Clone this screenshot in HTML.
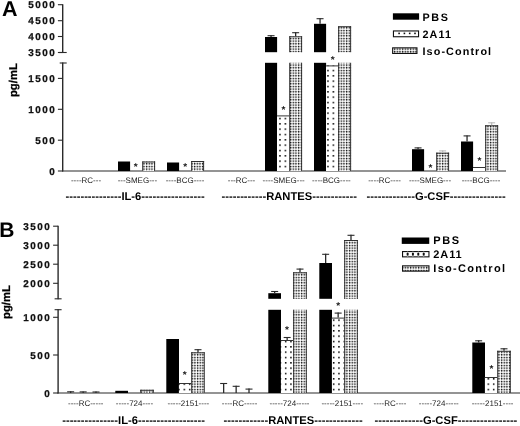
<!DOCTYPE html>
<html><head><meta charset="utf-8"><title>Figure</title>
<style>html,body{margin:0;padding:0;background:#fff}svg{display:block}text{font-family:'Liberation Sans', Arial, sans-serif;text-rendering:geometricPrecision}</style>
</head><body>
<svg width="520" height="426" viewBox="0 0 520 426">
<defs>
<pattern id="pA" x="1.920" y="0.420" width="5.3333" height="5.3333" patternUnits="userSpaceOnUse"><rect width="5.3333" height="5.3333" fill="#fff"/><rect x="0" y="0" width="1.5" height="1.5" fill="#000"/></pattern>
<pattern id="pI" x="2.020" y="0.520" width="2.6667" height="2.6667" patternUnits="userSpaceOnUse"><rect width="2.6667" height="2.6667" fill="#fff"/><rect x="0" y="0.400" width="2.6667" height="0.5" fill="#c0c0c0"/><rect x="0.400" y="0" width="0.5" height="2.6667" fill="#c0c0c0"/><rect x="0" y="0" width="1.3" height="1.3" fill="#000"/></pattern>
<pattern id="pAB" x="2.220" y="-0.580" width="5.3333" height="5.3333" patternUnits="userSpaceOnUse"><rect width="5.3333" height="5.3333" fill="#fff"/><rect x="0" y="0" width="1.5" height="1.5" fill="#000"/></pattern>
<pattern id="pIB" x="2.320" y="-0.480" width="2.6667" height="2.6667" patternUnits="userSpaceOnUse"><rect width="2.6667" height="2.6667" fill="#fff"/><rect x="0" y="0.400" width="2.6667" height="0.5" fill="#c0c0c0"/><rect x="0.400" y="0" width="0.5" height="2.6667" fill="#c0c0c0"/><rect x="0" y="0" width="1.3" height="1.3" fill="#000"/></pattern>
</defs>
<rect width="520" height="426" fill="#fff"/>
<text x="1.9" y="15.8" font-size="21.5" font-weight="bold" fill="#000">A</text>
<line x1="62.7" y1="4.2" x2="62.7" y2="53" stroke="#2a2a2a" stroke-width="1.4"/>
<line x1="62.7" y1="62.5" x2="62.7" y2="171.5" stroke="#2a2a2a" stroke-width="1.4"/>
<line x1="58.7" y1="52.5" x2="66.7" y2="52.5" stroke="#2a2a2a" stroke-width="1.1"/>
<line x1="59.7" y1="63" x2="66.7" y2="63" stroke="#2a2a2a" stroke-width="1.1"/>
<line x1="57.900000000000006" y1="4.7" x2="62.7" y2="4.7" stroke="#2a2a2a" stroke-width="1.1"/>
<text x="56.2" y="8.3" font-size="9.9" font-weight="bold" letter-spacing="1.5" text-anchor="end" fill="#111" stroke="#111" stroke-width="0.25">5000</text>
<line x1="57.900000000000006" y1="20.7" x2="62.7" y2="20.7" stroke="#2a2a2a" stroke-width="1.1"/>
<text x="56.2" y="24.3" font-size="9.9" font-weight="bold" letter-spacing="1.5" text-anchor="end" fill="#111" stroke="#111" stroke-width="0.25">4500</text>
<line x1="57.900000000000006" y1="36.5" x2="62.7" y2="36.5" stroke="#2a2a2a" stroke-width="1.1"/>
<text x="56.2" y="40.1" font-size="9.9" font-weight="bold" letter-spacing="1.5" text-anchor="end" fill="#111" stroke="#111" stroke-width="0.25">4000</text>
<line x1="57.900000000000006" y1="52.5" x2="62.7" y2="52.5" stroke="#2a2a2a" stroke-width="1.1"/>
<text x="56.2" y="56.1" font-size="9.9" font-weight="bold" letter-spacing="1.5" text-anchor="end" fill="#111" stroke="#111" stroke-width="0.25">3500</text>
<line x1="57.900000000000006" y1="78.4" x2="62.7" y2="78.4" stroke="#2a2a2a" stroke-width="1.1"/>
<text x="56.2" y="82.0" font-size="9.9" font-weight="bold" letter-spacing="1.5" text-anchor="end" fill="#111" stroke="#111" stroke-width="0.25">1500</text>
<line x1="57.900000000000006" y1="109.3" x2="62.7" y2="109.3" stroke="#2a2a2a" stroke-width="1.1"/>
<text x="56.2" y="112.89999999999999" font-size="9.9" font-weight="bold" letter-spacing="1.5" text-anchor="end" fill="#111" stroke="#111" stroke-width="0.25">1000</text>
<line x1="57.900000000000006" y1="140.2" x2="62.7" y2="140.2" stroke="#2a2a2a" stroke-width="1.1"/>
<text x="56.2" y="143.79999999999998" font-size="9.9" font-weight="bold" letter-spacing="1.5" text-anchor="end" fill="#111" stroke="#111" stroke-width="0.25">500</text>
<line x1="57.900000000000006" y1="171" x2="62.7" y2="171" stroke="#2a2a2a" stroke-width="1.1"/>
<text x="56.2" y="174.6" font-size="9.9" font-weight="bold" letter-spacing="1.5" text-anchor="end" fill="#111" stroke="#111" stroke-width="0.25">0</text>
<line x1="62.1" y1="171" x2="506" y2="171" stroke="#2a2a2a" stroke-width="1.15"/>
<text transform="translate(17.4,80.1) rotate(-90)" font-size="11.3" font-weight="bold" text-anchor="middle" fill="#000" stroke="#000" stroke-width="0.25">pg/mL</text>
<rect x="118.00" y="161.50" width="12.10" height="9.50" fill="#000"/>
<rect x="142.20" y="161.50" width="12.90" height="9.50" fill="url(#pI)"/>
<line x1="142.70" y1="161.50" x2="142.70" y2="171.00" stroke="#2a2a2a" stroke-width="0.95"/>
<line x1="154.60" y1="161.50" x2="154.60" y2="171.00" stroke="#2a2a2a" stroke-width="0.95"/>
<line x1="142.20" y1="162.00" x2="155.10" y2="162.00" stroke="#2a2a2a" stroke-width="0.95"/>
<rect x="167.00" y="162.50" width="12.10" height="8.50" fill="#000"/>
<rect x="191.20" y="161.00" width="12.90" height="10.00" fill="url(#pI)"/>
<line x1="191.70" y1="161.00" x2="191.70" y2="171.00" stroke="#2a2a2a" stroke-width="0.95"/>
<line x1="203.60" y1="161.00" x2="203.60" y2="171.00" stroke="#2a2a2a" stroke-width="0.95"/>
<line x1="191.20" y1="161.50" x2="204.10" y2="161.50" stroke="#2a2a2a" stroke-width="0.95"/>
<rect x="265.00" y="37.00" width="12.10" height="15.20" fill="#000"/>
<rect x="265.00" y="62.80" width="12.10" height="108.20" fill="#000"/>
<line x1="271.05" y1="35.20" x2="271.05" y2="37.00" stroke="#2a2a2a" stroke-width="1.3"/>
<line x1="267.55" y1="35.70" x2="274.55" y2="35.70" stroke="#2a2a2a" stroke-width="1.1"/>
<rect x="277.00" y="115.40" width="12.40" height="55.60" fill="url(#pA)"/>
<line x1="277.00" y1="115.90" x2="289.40" y2="115.90" stroke="#2a2a2a" stroke-width="0.95"/>
<rect x="289.20" y="36.30" width="12.90" height="15.90" fill="url(#pI)"/>
<line x1="289.70" y1="36.30" x2="289.70" y2="52.20" stroke="#2a2a2a" stroke-width="0.95"/>
<line x1="301.60" y1="36.30" x2="301.60" y2="52.20" stroke="#2a2a2a" stroke-width="0.95"/>
<line x1="289.20" y1="36.80" x2="302.10" y2="36.80" stroke="#2a2a2a" stroke-width="0.95"/>
<rect x="289.20" y="62.80" width="12.90" height="108.20" fill="url(#pI)"/>
<line x1="289.70" y1="62.80" x2="289.70" y2="171.00" stroke="#2a2a2a" stroke-width="0.95"/>
<line x1="301.60" y1="62.80" x2="301.60" y2="171.00" stroke="#2a2a2a" stroke-width="0.95"/>
<line x1="295.65" y1="32.20" x2="295.65" y2="36.30" stroke="#2a2a2a" stroke-width="1.3"/>
<line x1="292.15" y1="32.70" x2="299.15" y2="32.70" stroke="#2a2a2a" stroke-width="1.1"/>
<rect x="314.00" y="23.80" width="12.10" height="28.40" fill="#000"/>
<rect x="314.00" y="62.80" width="12.10" height="108.20" fill="#000"/>
<line x1="320.05" y1="18.20" x2="320.05" y2="23.80" stroke="#2a2a2a" stroke-width="1.3"/>
<line x1="316.55" y1="18.70" x2="323.55" y2="18.70" stroke="#2a2a2a" stroke-width="1.1"/>
<rect x="326.00" y="65.40" width="12.40" height="105.60" fill="url(#pA)"/>
<line x1="326.00" y1="65.90" x2="338.40" y2="65.90" stroke="#2a2a2a" stroke-width="0.95"/>
<rect x="338.20" y="26.20" width="12.90" height="26.00" fill="url(#pI)"/>
<line x1="338.70" y1="26.20" x2="338.70" y2="52.20" stroke="#2a2a2a" stroke-width="0.95"/>
<line x1="350.60" y1="26.20" x2="350.60" y2="52.20" stroke="#2a2a2a" stroke-width="0.95"/>
<line x1="338.20" y1="26.70" x2="351.10" y2="26.70" stroke="#2a2a2a" stroke-width="0.95"/>
<rect x="338.20" y="62.80" width="12.90" height="108.20" fill="url(#pI)"/>
<line x1="338.70" y1="62.80" x2="338.70" y2="171.00" stroke="#2a2a2a" stroke-width="0.95"/>
<line x1="350.60" y1="62.80" x2="350.60" y2="171.00" stroke="#2a2a2a" stroke-width="0.95"/>
<rect x="412.00" y="149.20" width="12.10" height="21.80" fill="#000"/>
<line x1="418.05" y1="147.40" x2="418.05" y2="149.20" stroke="#2a2a2a" stroke-width="1.3"/>
<line x1="414.55" y1="147.90" x2="421.55" y2="147.90" stroke="#2a2a2a" stroke-width="1.1"/>
<rect x="436.20" y="152.70" width="12.90" height="18.30" fill="url(#pI)"/>
<line x1="436.70" y1="152.70" x2="436.70" y2="171.00" stroke="#2a2a2a" stroke-width="0.95"/>
<line x1="448.60" y1="152.70" x2="448.60" y2="171.00" stroke="#2a2a2a" stroke-width="0.95"/>
<line x1="436.20" y1="153.20" x2="449.10" y2="153.20" stroke="#2a2a2a" stroke-width="0.95"/>
<line x1="442.65" y1="150.40" x2="442.65" y2="152.70" stroke="#bbb" stroke-width="1.3"/>
<line x1="439.15" y1="150.90" x2="446.15" y2="150.90" stroke="#bbb" stroke-width="1.1"/>
<rect x="461.00" y="141.50" width="12.10" height="29.50" fill="#000"/>
<line x1="467.05" y1="135.40" x2="467.05" y2="141.50" stroke="#2a2a2a" stroke-width="1.3"/>
<line x1="463.55" y1="135.90" x2="470.55" y2="135.90" stroke="#2a2a2a" stroke-width="1.1"/>
<rect x="473.00" y="167.00" width="12.40" height="4.00" fill="url(#pA)"/>
<line x1="473.00" y1="167.50" x2="485.40" y2="167.50" stroke="#2a2a2a" stroke-width="0.95"/>
<rect x="485.20" y="125.20" width="12.90" height="45.80" fill="url(#pI)"/>
<line x1="485.70" y1="125.20" x2="485.70" y2="171.00" stroke="#2a2a2a" stroke-width="0.95"/>
<line x1="497.60" y1="125.20" x2="497.60" y2="171.00" stroke="#2a2a2a" stroke-width="0.95"/>
<line x1="485.20" y1="125.70" x2="498.10" y2="125.70" stroke="#2a2a2a" stroke-width="0.95"/>
<line x1="491.65" y1="122.30" x2="491.65" y2="125.20" stroke="#bbb" stroke-width="1.3"/>
<line x1="488.15" y1="122.80" x2="495.15" y2="122.80" stroke="#bbb" stroke-width="1.1"/>
<text x="135.60" y="170.30" font-size="10" font-weight="bold" text-anchor="middle" fill="#111">*</text>
<text x="185.30" y="170.30" font-size="10" font-weight="bold" text-anchor="middle" fill="#111">*</text>
<text x="283.50" y="113.30" font-size="10" font-weight="bold" text-anchor="middle" fill="#111">*</text>
<text x="332.70" y="62.70" font-size="10" font-weight="bold" text-anchor="middle" fill="#111">*</text>
<text x="430.40" y="171.10" font-size="10" font-weight="bold" text-anchor="middle" fill="#111">*</text>
<text x="479.40" y="164.20" font-size="10" font-weight="bold" text-anchor="middle" fill="#111">*</text>
<text x="86" y="182.7" font-size="8" text-anchor="middle" fill="#222">----RC---</text>
<text x="137.4" y="182.7" font-size="8" text-anchor="middle" fill="#222">---SMEG---</text>
<text x="185" y="182.7" font-size="8" text-anchor="middle" fill="#222">----BCG----</text>
<text x="241.5" y="182.7" font-size="8" text-anchor="middle" fill="#222">---RC---</text>
<text x="283.7" y="182.7" font-size="8" text-anchor="middle" fill="#222">----SMEG---</text>
<text x="331.4" y="182.7" font-size="8" text-anchor="middle" fill="#222">----BCG----</text>
<text x="384.6" y="182.7" font-size="8" text-anchor="middle" fill="#222">----RC----</text>
<text x="430" y="182.7" font-size="8" text-anchor="middle" fill="#222">----SMEG---</text>
<text x="481" y="182.7" font-size="8" text-anchor="middle" fill="#222">----BCG----</text>
<text x="65.5" y="200.3" font-size="11.2" font-weight="bold" fill="#000">---------------IL-6-----------------</text>
<text x="221.5" y="200.3" font-size="11.2" font-weight="bold" fill="#000">------------RANTES------------</text>
<text x="366.5" y="200.3" font-size="11.2" font-weight="bold" fill="#000">-------------G-CSF---------------</text>
<rect x="392.9" y="13.3" width="26.2" height="6.4" fill="#000"/>
<rect x="393.45" y="30.95" width="25.099999999999998" height="5.800000000000001" fill="#fff" stroke="#111" stroke-width="1.1"/>
<rect x="398.30" y="32.60" width="1.6" height="1.6" fill="#111"/>
<rect x="403.60" y="32.60" width="1.6" height="1.6" fill="#111"/>
<rect x="408.90" y="32.60" width="1.6" height="1.6" fill="#111"/>
<rect x="414.20" y="32.60" width="1.6" height="1.6" fill="#111"/>
<rect x="392.65000000000003" y="47.849999999999994" width="24.299999999999997" height="5.6" fill="url(#pI)" stroke="#111" stroke-width="1.1"/>
<text x="422.5" y="20.5" font-size="10.8" font-weight="bold" letter-spacing="1.6" fill="#000">PBS</text>
<text x="422.5" y="37.8" font-size="10.8" font-weight="bold" letter-spacing="1.1" fill="#000">2A11</text>
<text x="422.5" y="54.9" font-size="10.8" font-weight="bold" letter-spacing="1.1" fill="#000">Iso-Control</text>
<text x="-0.7" y="236.8" font-size="21" font-weight="bold" fill="#000">B</text>
<line x1="58.1" y1="225.7" x2="58.1" y2="299.3" stroke="#2a2a2a" stroke-width="1.4"/>
<line x1="58.1" y1="309.2" x2="58.1" y2="393.5" stroke="#2a2a2a" stroke-width="1.4"/>
<line x1="54.6" y1="298.8" x2="61.6" y2="298.8" stroke="#2a2a2a" stroke-width="1.1"/>
<line x1="54.6" y1="309.7" x2="61.6" y2="309.7" stroke="#2a2a2a" stroke-width="1.1"/>
<line x1="53.1" y1="226.2" x2="58.1" y2="226.2" stroke="#2a2a2a" stroke-width="1.1"/>
<text x="51.2" y="229.79999999999998" font-size="9.9" font-weight="bold" letter-spacing="1.5" text-anchor="end" fill="#111" stroke="#111" stroke-width="0.25">3500</text>
<line x1="53.1" y1="245.2" x2="58.1" y2="245.2" stroke="#2a2a2a" stroke-width="1.1"/>
<text x="51.2" y="248.79999999999998" font-size="9.9" font-weight="bold" letter-spacing="1.5" text-anchor="end" fill="#111" stroke="#111" stroke-width="0.25">3000</text>
<line x1="53.1" y1="264.2" x2="58.1" y2="264.2" stroke="#2a2a2a" stroke-width="1.1"/>
<text x="51.2" y="267.8" font-size="9.9" font-weight="bold" letter-spacing="1.5" text-anchor="end" fill="#111" stroke="#111" stroke-width="0.25">2500</text>
<line x1="53.1" y1="283.3" x2="58.1" y2="283.3" stroke="#2a2a2a" stroke-width="1.1"/>
<text x="51.2" y="286.90000000000003" font-size="9.9" font-weight="bold" letter-spacing="1.5" text-anchor="end" fill="#111" stroke="#111" stroke-width="0.25">2000</text>
<line x1="53.1" y1="317.3" x2="58.1" y2="317.3" stroke="#2a2a2a" stroke-width="1.1"/>
<text x="51.2" y="320.90000000000003" font-size="9.9" font-weight="bold" letter-spacing="1.5" text-anchor="end" fill="#111" stroke="#111" stroke-width="0.25">1000</text>
<line x1="53.1" y1="355" x2="58.1" y2="355" stroke="#2a2a2a" stroke-width="1.1"/>
<text x="51.2" y="358.6" font-size="9.9" font-weight="bold" letter-spacing="1.5" text-anchor="end" fill="#111" stroke="#111" stroke-width="0.25">500</text>
<line x1="53.1" y1="393" x2="58.1" y2="393" stroke="#2a2a2a" stroke-width="1.1"/>
<text x="51.2" y="396.6" font-size="9.9" font-weight="bold" letter-spacing="1.5" text-anchor="end" fill="#111" stroke="#111" stroke-width="0.25">0</text>
<line x1="57.5" y1="393" x2="520" y2="393" stroke="#2a2a2a" stroke-width="1.15"/>
<text transform="translate(9.8,302) rotate(-90)" font-size="11.3" font-weight="bold" text-anchor="middle" fill="#000" stroke="#000" stroke-width="0.25">pg/mL</text>
<line x1="70.65" y1="391.30" x2="70.65" y2="393.00" stroke="#2a2a2a" stroke-width="1.3"/>
<line x1="67.15" y1="391.80" x2="74.15" y2="391.80" stroke="#2a2a2a" stroke-width="1.1"/>
<line x1="83.15" y1="391.40" x2="83.15" y2="393.00" stroke="#2a2a2a" stroke-width="1.3"/>
<line x1="79.65" y1="391.90" x2="86.65" y2="391.90" stroke="#2a2a2a" stroke-width="1.1"/>
<line x1="96.00" y1="391.50" x2="96.00" y2="393.00" stroke="#2a2a2a" stroke-width="1.3"/>
<line x1="92.50" y1="392.00" x2="99.50" y2="392.00" stroke="#2a2a2a" stroke-width="1.1"/>
<rect x="115.30" y="390.80" width="12.70" height="2.20" fill="#000"/>
<rect x="140.20" y="389.80" width="13.60" height="3.20" fill="url(#pIB)"/>
<line x1="140.70" y1="389.80" x2="140.70" y2="393.00" stroke="#2a2a2a" stroke-width="0.95"/>
<line x1="153.30" y1="389.80" x2="153.30" y2="393.00" stroke="#2a2a2a" stroke-width="0.95"/>
<line x1="140.20" y1="390.30" x2="153.80" y2="390.30" stroke="#2a2a2a" stroke-width="0.95"/>
<rect x="166.30" y="339.00" width="12.70" height="54.00" fill="#000"/>
<rect x="178.90" y="383.00" width="12.50" height="10.00" fill="url(#pAB)"/>
<line x1="178.90" y1="383.50" x2="191.40" y2="383.50" stroke="#2a2a2a" stroke-width="0.95"/>
<rect x="191.20" y="352.30" width="13.60" height="40.70" fill="url(#pIB)"/>
<line x1="191.70" y1="352.30" x2="191.70" y2="393.00" stroke="#2a2a2a" stroke-width="0.95"/>
<line x1="204.30" y1="352.30" x2="204.30" y2="393.00" stroke="#2a2a2a" stroke-width="0.95"/>
<line x1="191.20" y1="352.80" x2="204.80" y2="352.80" stroke="#2a2a2a" stroke-width="0.95"/>
<line x1="198.00" y1="349.20" x2="198.00" y2="352.30" stroke="#2a2a2a" stroke-width="1.3"/>
<line x1="194.50" y1="349.70" x2="201.50" y2="349.70" stroke="#2a2a2a" stroke-width="1.1"/>
<line x1="223.65" y1="383.00" x2="223.65" y2="393.00" stroke="#2a2a2a" stroke-width="1.3"/>
<line x1="220.15" y1="383.50" x2="227.15" y2="383.50" stroke="#2a2a2a" stroke-width="1.1"/>
<line x1="236.15" y1="385.80" x2="236.15" y2="393.00" stroke="#2a2a2a" stroke-width="1.3"/>
<line x1="232.65" y1="386.30" x2="239.65" y2="386.30" stroke="#2a2a2a" stroke-width="1.1"/>
<line x1="249.00" y1="388.60" x2="249.00" y2="393.00" stroke="#2a2a2a" stroke-width="1.3"/>
<line x1="245.50" y1="389.10" x2="252.50" y2="389.10" stroke="#2a2a2a" stroke-width="1.1"/>
<rect x="268.30" y="293.20" width="12.70" height="5.60" fill="#000"/>
<rect x="268.30" y="309.80" width="12.70" height="83.20" fill="#000"/>
<line x1="274.65" y1="291.00" x2="274.65" y2="293.20" stroke="#2a2a2a" stroke-width="1.3"/>
<line x1="271.15" y1="291.50" x2="278.15" y2="291.50" stroke="#2a2a2a" stroke-width="1.1"/>
<rect x="280.90" y="340.00" width="12.50" height="53.00" fill="url(#pAB)"/>
<line x1="280.90" y1="340.50" x2="293.40" y2="340.50" stroke="#2a2a2a" stroke-width="0.95"/>
<line x1="287.15" y1="337.00" x2="287.15" y2="340.00" stroke="#2a2a2a" stroke-width="1.3"/>
<line x1="283.65" y1="337.50" x2="290.65" y2="337.50" stroke="#2a2a2a" stroke-width="1.1"/>
<rect x="293.20" y="272.30" width="13.60" height="26.50" fill="url(#pIB)"/>
<line x1="293.70" y1="272.30" x2="293.70" y2="298.80" stroke="#2a2a2a" stroke-width="0.95"/>
<line x1="306.30" y1="272.30" x2="306.30" y2="298.80" stroke="#2a2a2a" stroke-width="0.95"/>
<line x1="293.20" y1="272.80" x2="306.80" y2="272.80" stroke="#2a2a2a" stroke-width="0.95"/>
<rect x="293.20" y="309.80" width="13.60" height="83.20" fill="url(#pIB)"/>
<line x1="293.70" y1="309.80" x2="293.70" y2="393.00" stroke="#2a2a2a" stroke-width="0.95"/>
<line x1="306.30" y1="309.80" x2="306.30" y2="393.00" stroke="#2a2a2a" stroke-width="0.95"/>
<line x1="300.00" y1="268.60" x2="300.00" y2="272.30" stroke="#2a2a2a" stroke-width="1.3"/>
<line x1="296.50" y1="269.10" x2="303.50" y2="269.10" stroke="#2a2a2a" stroke-width="1.1"/>
<rect x="319.30" y="263.00" width="12.70" height="35.80" fill="#000"/>
<rect x="319.30" y="309.80" width="12.70" height="83.20" fill="#000"/>
<line x1="325.65" y1="253.80" x2="325.65" y2="263.00" stroke="#2a2a2a" stroke-width="1.3"/>
<line x1="322.15" y1="254.30" x2="329.15" y2="254.30" stroke="#2a2a2a" stroke-width="1.1"/>
<rect x="331.90" y="317.60" width="12.50" height="75.40" fill="url(#pAB)"/>
<line x1="331.90" y1="318.10" x2="344.40" y2="318.10" stroke="#2a2a2a" stroke-width="0.95"/>
<line x1="338.15" y1="312.60" x2="338.15" y2="317.60" stroke="#2a2a2a" stroke-width="1.3"/>
<line x1="334.65" y1="313.10" x2="341.65" y2="313.10" stroke="#2a2a2a" stroke-width="1.1"/>
<rect x="344.20" y="240.00" width="13.60" height="58.80" fill="url(#pIB)"/>
<line x1="344.70" y1="240.00" x2="344.70" y2="298.80" stroke="#2a2a2a" stroke-width="0.95"/>
<line x1="357.30" y1="240.00" x2="357.30" y2="298.80" stroke="#2a2a2a" stroke-width="0.95"/>
<line x1="344.20" y1="240.50" x2="357.80" y2="240.50" stroke="#2a2a2a" stroke-width="0.95"/>
<rect x="344.20" y="309.80" width="13.60" height="83.20" fill="url(#pIB)"/>
<line x1="344.70" y1="309.80" x2="344.70" y2="393.00" stroke="#2a2a2a" stroke-width="0.95"/>
<line x1="357.30" y1="309.80" x2="357.30" y2="393.00" stroke="#2a2a2a" stroke-width="0.95"/>
<line x1="351.00" y1="234.80" x2="351.00" y2="240.00" stroke="#2a2a2a" stroke-width="1.3"/>
<line x1="347.50" y1="235.30" x2="354.50" y2="235.30" stroke="#2a2a2a" stroke-width="1.1"/>
<rect x="472.30" y="342.50" width="12.70" height="50.50" fill="#000"/>
<line x1="478.65" y1="340.30" x2="478.65" y2="342.50" stroke="#2a2a2a" stroke-width="1.3"/>
<line x1="475.15" y1="340.80" x2="482.15" y2="340.80" stroke="#2a2a2a" stroke-width="1.1"/>
<rect x="484.90" y="377.00" width="12.50" height="16.00" fill="url(#pAB)"/>
<line x1="484.90" y1="377.50" x2="497.40" y2="377.50" stroke="#2a2a2a" stroke-width="0.95"/>
<rect x="497.20" y="350.80" width="13.60" height="42.20" fill="url(#pIB)"/>
<line x1="497.70" y1="350.80" x2="497.70" y2="393.00" stroke="#2a2a2a" stroke-width="0.95"/>
<line x1="510.30" y1="350.80" x2="510.30" y2="393.00" stroke="#2a2a2a" stroke-width="0.95"/>
<line x1="497.20" y1="351.30" x2="510.80" y2="351.30" stroke="#2a2a2a" stroke-width="0.95"/>
<line x1="504.00" y1="348.30" x2="504.00" y2="350.80" stroke="#2a2a2a" stroke-width="1.3"/>
<line x1="500.50" y1="348.80" x2="507.50" y2="348.80" stroke="#2a2a2a" stroke-width="1.1"/>
<text x="184.80" y="377.70" font-size="10" font-weight="bold" text-anchor="middle" fill="#111">*</text>
<text x="287.00" y="333.30" font-size="10" font-weight="bold" text-anchor="middle" fill="#111">*</text>
<text x="338.20" y="308.70" font-size="10" font-weight="bold" text-anchor="middle" fill="#111">*</text>
<text x="491.40" y="371.50" font-size="10" font-weight="bold" text-anchor="middle" fill="#111">*</text>
<text x="85.75" y="406.3" font-size="8" text-anchor="middle" fill="#222">----RC-----</text>
<text x="134.5" y="406.3" font-size="8" text-anchor="middle" fill="#222">-----724----</text>
<text x="188.4" y="406.3" font-size="8" text-anchor="middle" fill="#222">-----2151----</text>
<text x="239.6" y="406.3" font-size="8" text-anchor="middle" fill="#222">----RC-----</text>
<text x="289.5" y="406.3" font-size="8" text-anchor="middle" fill="#222">-----724-----</text>
<text x="342.3" y="406.3" font-size="8" text-anchor="middle" fill="#222">-----2151----</text>
<text x="390" y="406.3" font-size="8" text-anchor="middle" fill="#222">----RC----</text>
<text x="438.8" y="406.3" font-size="8" text-anchor="middle" fill="#222">-----724-----</text>
<text x="492.6" y="406.3" font-size="8" text-anchor="middle" fill="#222">-----2151----</text>
<text x="62.2" y="424" font-size="11.2" font-weight="bold" fill="#000">---------------IL-6------------------</text>
<text x="223.5" y="424" font-size="11.2" font-weight="bold" fill="#000">------------RANTES-------------</text>
<text x="374.5" y="424" font-size="11.2" font-weight="bold" fill="#000">-------------G-CSF----------------</text>
<rect x="401.75" y="237.5" width="27.5" height="6.4" fill="#000"/>
<rect x="402.55" y="251.55" width="26.4" height="5.300000000000001" fill="#fff" stroke="#111" stroke-width="1.1"/>
<rect x="407.00" y="251.50" width="1.2" height="5.40" fill="#999"/>
<rect x="406.65" y="253.00" width="1.9" height="2.4" fill="#111"/>
<rect x="412.30" y="251.50" width="1.2" height="5.40" fill="#999"/>
<rect x="411.95" y="253.00" width="1.9" height="2.4" fill="#111"/>
<rect x="417.70" y="251.50" width="1.2" height="5.40" fill="#999"/>
<rect x="417.35" y="253.00" width="1.9" height="2.4" fill="#111"/>
<rect x="423.10" y="251.50" width="1.2" height="5.40" fill="#999"/>
<rect x="422.75" y="253.00" width="1.9" height="2.4" fill="#111"/>
<rect x="402.55" y="265.85" width="26.4" height="5.300000000000001" fill="url(#pI)" stroke="#111" stroke-width="1.1"/>
<text x="433.3" y="244.0" font-size="11" font-weight="bold" letter-spacing="1.6" fill="#000">PBS</text>
<text x="433.3" y="257.8" font-size="11" font-weight="bold" letter-spacing="0.9" fill="#000">2A11</text>
<text x="433.3" y="271.9" font-size="11" font-weight="bold" letter-spacing="1.3" fill="#000">Iso-Control</text>
</svg></body></html>
